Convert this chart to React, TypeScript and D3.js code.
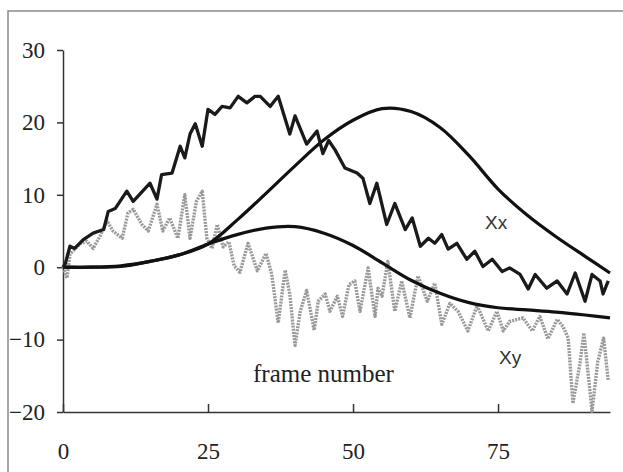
import React, { useEffect, useRef } from 'react';
import * as d3 from 'd3';

// smooth model curves, sampled every 5 frames
const smoothFrames = [0, 5, 10, 15, 20, 25, 30, 35, 40, 45, 50, 55, 60, 65, 70, 75, 80, 85, 90, 94.3];
const xxValues = [0, 0, 0.2, 0.8, 1.7, 3.2, 6.5, 10.2, 14, 17.6, 20.3, 21.9, 21.5, 19.3, 15.4, 10.8, 7.2, 4.2, 1.5, -0.8];
const xyValues = [0, 0, 0.1, 0.8, 1.7, 3.2, 4.5, 5.4, 5.6, 4.7, 3, 0.6, -1.8, -3.6, -4.9, -5.6, -5.9, -6.2, -6.6, -7];

// measured Xx (dark, noisy)
const darkFrames = [0, 0.4, 1.2, 2, 3.5, 5.2, 7, 7.8, 9, 11, 12.1, 15, 16.2, 17, 18.8, 20.2, 21, 21.9, 22.8, 24, 25, 26.2, 27.4, 28.8, 30.2, 31.7, 33.1, 34, 35.7, 37.1, 39.1, 40, 42, 43.8, 44.8, 45.8, 46.9, 48.6, 50.7, 51.7, 52.9, 54.1, 55.8, 57.2, 59, 60.2, 61.6, 63, 64.1, 65.3, 66.4, 67.9, 69.6, 71, 72.4, 74, 75.7, 77, 78.8, 80.2, 81.4, 83.4, 85.2, 86.9, 88.3, 90, 91.2, 92.6, 93.1, 94];
const darkValues = [0, 0.5, 2.9, 2.6, 3.8, 4.7, 5.2, 7.7, 8.1, 10.5, 9.1, 11.6, 9.4, 12.8, 13, 16.7, 15.1, 18.4, 19.8, 16.7, 21.8, 21.1, 22.2, 22, 23.6, 22.7, 23.6, 23.6, 22.2, 23.6, 18.4, 20.9, 17, 18.8, 15.7, 17.5, 16.2, 13.7, 13, 12.3, 8.8, 11.6, 5.9, 8.8, 5.2, 6.8, 2.9, 4, 3.3, 4.5, 2.5, 3.3, 1.1, 2.2, 0.1, 1.1, -0.6, -0.1, -1, -3, -1, -2.9, -1.9, -3.7, -0.8, -4.7, -1, -1.9, -3.7, -1.9];

// measured Xy (grey, noisy)
const greyFrames = [0, 0.7, 1.2, 2.9, 4.1, 5.2, 6.4, 7.6, 8.6, 10.2, 11.2, 12.1, 13.6, 14.7, 16.2, 17.2, 18.4, 19.8, 21, 21.9, 23, 24, 24.8, 25.7, 26.6, 27.6, 28.6, 29.5, 30.5, 31.9, 33.5, 35, 36, 37.1, 38.3, 39.1, 40, 40.9, 42, 43.3, 44, 45.2, 46, 47.3, 48.2, 49.3, 50.3, 51.2, 52.6, 53.8, 54.3, 55, 56, 57.2, 58.4, 59.8, 61.2, 62.8, 64.1, 65.3, 66.7, 68.1, 69.8, 71.4, 73.3, 74.8, 75.9, 77, 79.3, 80.9, 82.2, 83.6, 85.2, 86.2, 87.1, 87.9, 89.1, 89.8, 91.2, 92.2, 93.2, 94];
const greyValues = [0, -1.5, 1.8, 3.2, 3.6, 2.6, 4.3, 6.4, 5, 4, 7.5, 8, 5.9, 5, 8.7, 5, 6.8, 4, 10, 4, 9.1, 10.5, 4, 2.6, 5.9, 2.8, 3.5, 0.2, -0.7, 3.3, -0.5, 1.9, -1, -7.7, -0.4, -3.7, -10.8, -6.1, -3.2, -8.7, -4.7, -3.7, -6.1, -4, -6.8, -2.4, -1.9, -6.1, -0.1, -6.8, -2.9, -4, 0.8, -6.1, -1.9, -7, -1.2, -4.7, -2.2, -7.9, -5, -6.1, -8.8, -5.3, -8.8, -6.1, -8.8, -7.5, -7, -8.8, -6.8, -9.9, -7.2, -8.2, -9.8, -18.8, -13.4, -9.1, -19.9, -13, -9.8, -15.7];

const yTicks = [-20, -10, 0, 10, 20, 30];
const xTicks = [0, 25, 50, 75];

const W = 623;
const H = 472;

const App: React.FC = () => {
  const svgRef = useRef<SVGSVGElement>(null);

  useEffect(() => {
    if (!svgRef.current) return;
    const svg = d3.select(svgRef.current);
    svg.selectAll('*').remove();

    const x = d3.scaleLinear().domain([0, 94.3]).range([63, 610]);
    const y = d3.scaleLinear().domain([-20, 30]).range([412, 50]);

    // scanned frame
    svg.append('rect')
      .attr('x', 8).attr('y', 11)
      .attr('width', 640).attr('height', 480)
      .attr('fill', 'none')
      .attr('stroke', '#8a8a8a')
      .attr('stroke-width', 1.5);

    const serif = '"Liberation Serif", "Times New Roman", serif';

    const yAxis = svg.append('g')
      .attr('transform', `translate(${x(0)},0)`)
      .call(d3.axisLeft(y).tickValues(yTicks).tickSize(6).tickSizeOuter(0).tickPadding(12).tickFormat(d3.format('d')));
    yAxis.selectAll('text').style('font-family', serif).style('font-size', '23px').attr('fill', '#222');

    const xAxis = svg.append('g')
      .attr('transform', `translate(0,${y(-20)})`)
      .call(d3.axisBottom(x).tickValues(xTicks).tickSize(-8).tickSizeOuter(0).tickPadding(31).tickFormat(d3.format('d')));
    xAxis.selectAll('text').style('font-family', serif).style('font-size', '23px').attr('fill', '#222');

    svg.selectAll('.domain, .tick line').attr('stroke', '#333').attr('stroke-width', 1.5);

    const line = (xs: number[], ys: number[], curve: d3.CurveFactory) =>
      d3.line<number>().x((_, i) => x(xs[i])).y(v => y(v)).curve(curve)(ys);

    // grey measured Xy
    svg.append('path')
      .attr('d', line(greyFrames, greyValues, d3.curveLinear))
      .attr('fill', 'none')
      .attr('stroke', '#999')
      .attr('stroke-width', 3.4)
      .attr('stroke-dasharray', '2 1.1')
      .attr('stroke-linejoin', 'round');

    // smooth curves
    [xxValues, xyValues].forEach(vals => {
      svg.append('path')
        .attr('d', line(smoothFrames, vals, d3.curveCatmullRom))
        .attr('fill', 'none')
        .attr('stroke', '#111')
        .attr('stroke-width', 3.2);
    });

    // dark measured Xx
    svg.append('path')
      .attr('d', line(darkFrames, darkValues, d3.curveLinear))
      .attr('fill', 'none')
      .attr('stroke', '#1a1a1a')
      .attr('stroke-width', 3.3)
      .attr('stroke-linejoin', 'round');

    const sans = '"Liberation Sans", Arial, sans-serif';
    svg.append('text').attr('x', 485).attr('y', 229).text('Xx')
      .style('font-family', sans).style('font-size', '19px').attr('fill', '#333');
    svg.append('text').attr('x', 499).attr('y', 364).text('Xy')
      .style('font-family', sans).style('font-size', '19px').attr('fill', '#333');
    svg.append('text').attr('x', 253).attr('y', 382).text('frame number')
      .style('font-family', serif).style('font-size', '25px').attr('fill', '#222');
  }, []);

  return (
    <svg ref={svgRef} width={W} height={H}
      style={{ position: 'absolute', left: 0, top: 0, background: '#fff' }} />
  );
};

export default App;
